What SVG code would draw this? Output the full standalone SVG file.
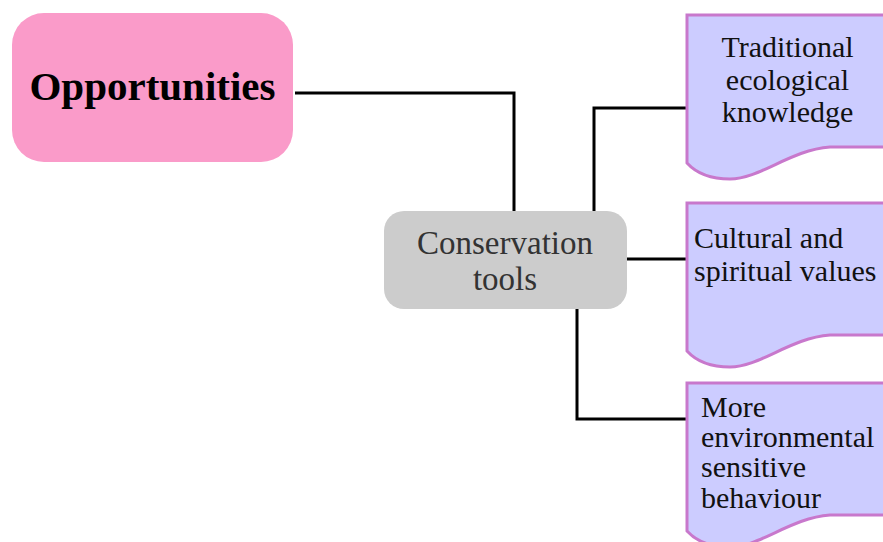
<svg xmlns="http://www.w3.org/2000/svg" width="883" height="542" viewBox="0 0 883 542">
  <style>
    .link { fill: none; stroke: #000; stroke-width: 3; }
    .doc { fill: #ccccff; stroke: #c878cc; stroke-width: 3; }
    .doc-text { font-family: "Liberation Serif", "Times New Roman", serif; font-size: 30px; fill: #111; }
    .root { fill: #fa9bc9; }
    .hub { fill: #cccccc; }
  </style>
  <defs>
    <!-- document shape with wavy bottom edge, origin at top-left -->
    <path id="docShape" d="M0,0 H220 V132 H143 C103,135 73,164 43,164 C25,164 10,159 0,148 Z"/>
  </defs>
  <rect width="883" height="542" fill="#fff"/>

  <g id="connectors">
    <path class="link" d="M295,93 H514 V211"/>
    <path class="link" d="M594,211 V108 H687"/>
    <path class="link" d="M627,259 H687"/>
    <path class="link" d="M577,309 V419 H687"/>
  </g>

  <g id="opportunities">
    <rect class="root" x="12" y="13" width="281" height="149" rx="32" ry="32"/>
    <text x="152.5" y="100" text-anchor="middle" font-family="Liberation Serif, 'Times New Roman', serif" font-size="41" font-weight="bold" fill="#000">Opportunities</text>
  </g>

  <g id="conservation-tools">
    <rect class="hub" x="384" y="211" width="243" height="98" rx="20" ry="20"/>
    <text x="505" y="254" text-anchor="middle" font-family="Liberation Serif, 'Times New Roman', serif" font-size="33" fill="#333">Conservation</text>
    <text x="505" y="290" text-anchor="middle" font-family="Liberation Serif, 'Times New Roman', serif" font-size="33" fill="#333">tools</text>
  </g>

  <g id="traditional-knowledge">
    <use href="#docShape" class="doc" transform="translate(687,15)"/>
    <text class="doc-text" x="787.5" y="57" text-anchor="middle">Traditional</text>
    <text class="doc-text" x="787.5" y="90" text-anchor="middle">ecological</text>
    <text class="doc-text" x="787.5" y="122" text-anchor="middle">knowledge</text>
  </g>

  <g id="cultural-values">
    <use href="#docShape" class="doc" transform="translate(687,203)"/>
    <text class="doc-text" x="694" y="248">Cultural and</text>
    <text class="doc-text" x="694" y="281">spiritual values</text>
  </g>

  <g id="sensitive-behaviour">
    <use href="#docShape" class="doc" transform="translate(687,383)"/>
    <text class="doc-text" x="701" y="417">More</text>
    <text class="doc-text" x="701" y="447">environmental</text>
    <text class="doc-text" x="701" y="477">sensitive</text>
    <text class="doc-text" x="701" y="508">behaviour</text>
  </g>
</svg>
